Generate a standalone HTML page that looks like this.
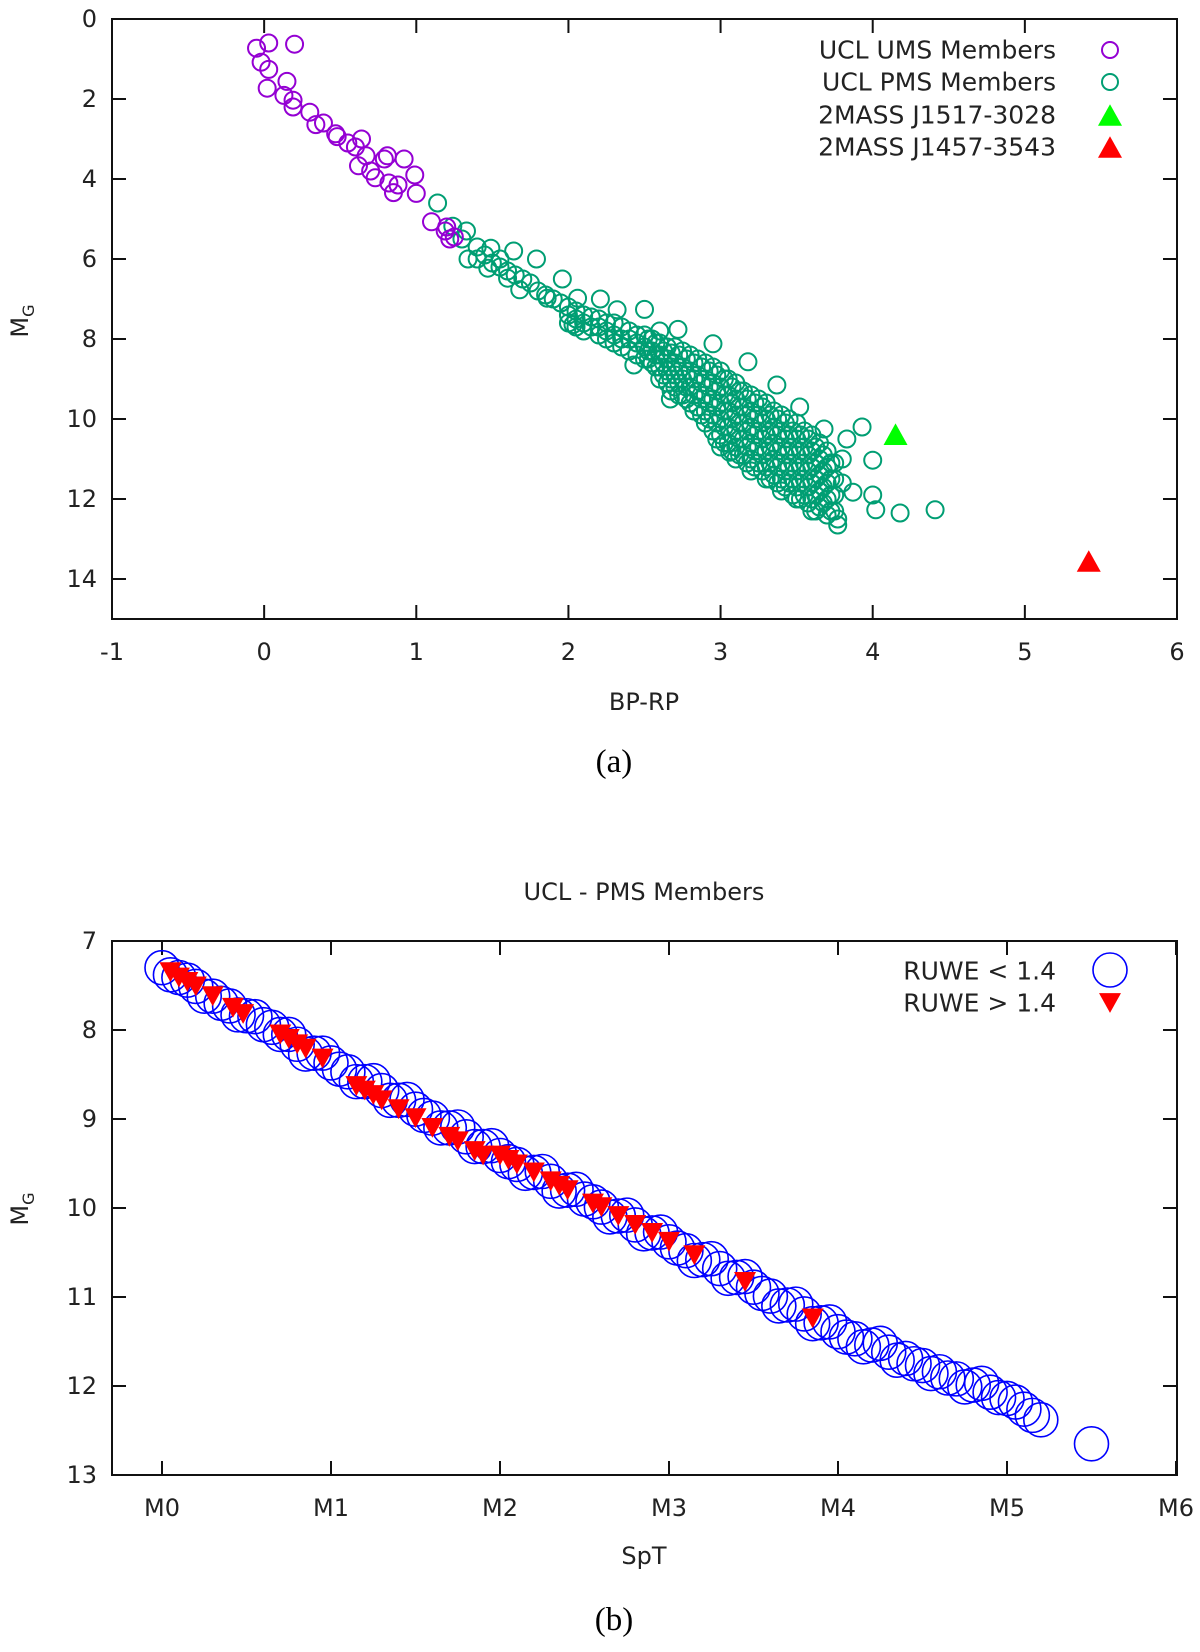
<!DOCTYPE html>
<html><head><meta charset="utf-8"><title>UCL CMD</title>
<style>
html,body{margin:0;padding:0;background:#fff;}
svg{display:block;font-family:"DejaVu Sans","Liberation Sans",sans-serif;}
</style></head>
<body>
<svg id="fig" width="1200" height="1652" viewBox="0 0 1200 1652" xmlns="http://www.w3.org/2000/svg">
<rect width="1200" height="1652" fill="#fff"/>
<g id="pa"></g>
<g id="pb"></g>
</svg>
<script>
// ---- Panel (a) data ----
const umsBP=[-0.05,0.03,0.2,-0.02,0.03,0.02,0.15,0.13,0.19,0.19,0.3,0.34,0.39,0.47,0.48,0.6,0.64,0.62,0.67,0.73,0.81,0.82,0.85,0.79,0.92,0.99,1.0,1.1,1.19,1.22,0.88,1.2,1.25,0.55,0.7];
const umsMG=[0.73,0.6,0.63,1.08,1.26,1.73,1.56,1.91,2.03,2.2,2.33,2.64,2.6,2.87,2.94,3.2,3.0,3.67,3.42,3.97,3.42,4.1,4.34,3.5,3.5,3.9,4.36,5.07,5.3,5.5,4.15,5.2,5.45,3.1,3.8];
const pmsBP=[1.14,1.24,1.33,1.34,1.49,1.47,1.64,1.79,1.6,1.68,1.96,1.86,2.06,2.21,2.03,2.32,2.5,2.43,2.6,2.72,2.95,2.67,3.18,3.37,3.06,3.52,3.68,3.93,4.0,3.83,3.87,4.0,4.02,4.18,4.41,3.77,3.77,
1.3,1.4,1.45,1.5,1.55,1.6,1.65,1.7,1.75,1.8,1.85,1.9,1.95,1.55,1.4,
2.0,2.0,2.0,2.1,2.1,2.1,2.2,2.2,2.2,2.3,2.3,2.3,2.4,2.4,2.4,2.5,2.5,2.5,2.55,2.55,2.55,
2.6,2.6,2.6,2.6,2.65,2.65,2.65,2.65,2.7,2.7,2.7,2.7,2.75,2.75,2.75,2.75,2.8,2.8,2.8,2.8,2.85,2.85,2.85,2.85,
2.9,2.9,2.9,2.9,2.9,2.95,2.95,2.95,2.95,2.95,3.0,3.0,3.0,3.0,3.0,3.0,3.05,3.05,3.05,3.05,3.05,
3.1,3.1,3.1,3.1,3.1,3.1,3.15,3.15,3.15,3.15,3.15,3.2,3.2,3.2,3.2,3.2,3.2,3.25,3.25,3.25,3.25,3.25,
3.3,3.3,3.3,3.3,3.3,3.3,3.35,3.35,3.35,3.35,3.35,3.4,3.4,3.4,3.4,3.4,3.4,3.45,3.45,3.45,3.45,3.45,
3.5,3.5,3.5,3.5,3.5,3.5,3.55,3.55,3.55,3.55,3.55,3.6,3.6,3.6,3.6,3.6,3.6,3.65,3.65,3.65,3.65,3.65,
3.7,3.7,3.7,3.7,3.7,3.75,3.75,3.75,3.75,3.8,3.8];
const pmsMG=[4.6,5.18,5.3,6.0,5.73,6.23,5.8,6.0,6.48,6.77,6.5,6.98,6.98,7.0,7.64,7.27,7.26,8.65,7.8,7.76,8.12,9.5,8.57,9.15,10.83,9.7,10.25,10.2,11.03,10.5,11.83,11.9,12.27,12.35,12.27,12.5,12.65,
5.5,5.7,5.9,6.1,6.0,6.3,6.4,6.5,6.6,6.8,6.9,7.0,7.1,6.2,6.0,
7.2,7.4,7.6,7.4,7.6,7.8,7.5,7.7,7.9,7.6,7.9,8.1,7.8,8.0,8.3,7.9,8.2,8.5,8.0,8.3,8.6,
8.1,8.4,8.7,9.0,8.2,8.5,8.8,9.1,8.2,8.6,8.9,9.2,8.3,8.7,9.0,9.4,8.4,8.8,9.2,9.6,8.5,8.9,9.3,9.7,
8.6,9.0,9.4,9.8,10.1,8.7,9.1,9.5,9.9,10.3,8.8,9.2,9.6,10.0,10.4,10.7,9.0,9.4,9.8,10.2,10.6,
9.1,9.5,9.9,10.3,10.7,11.0,9.3,9.7,10.1,10.5,10.9,9.4,9.8,10.2,10.6,11.0,11.3,9.5,9.9,10.3,10.7,11.1,
9.6,10.0,10.4,10.8,11.2,11.5,9.8,10.2,10.6,11.0,11.4,9.9,10.3,10.7,11.1,11.5,11.8,10.0,10.4,10.8,11.2,11.6,
10.1,10.5,10.9,11.3,11.7,12.0,10.3,10.7,11.1,11.5,11.9,10.4,10.8,11.2,11.6,12.0,12.3,10.6,11.0,11.4,11.8,12.2,
10.8,11.2,11.6,12.0,12.4,11.1,11.5,11.9,12.3,11.0,11.6];
const pmsBP2=[2.05,2.05,2.05,2.15,2.15,2.25,2.25,2.25,2.35,2.35,2.35,2.45,2.45,2.45,2.525,2.525,2.525,2.575,2.575,2.575,
2.625,2.625,2.625,2.675,2.675,2.675,2.675,2.725,2.725,2.725,2.725,2.775,2.775,2.775,2.775,2.825,2.825,2.825,2.825,2.875,2.875,2.875,2.875,2.925,2.925,2.925,2.925,
2.975,2.975,2.975,2.975,2.975,3.025,3.025,3.025,3.025,3.025,3.075,3.075,3.075,3.075,3.075,3.125,3.125,3.125,3.125,3.125,3.175,3.175,3.175,3.175,3.175,
3.225,3.225,3.225,3.225,3.225,3.275,3.275,3.275,3.275,3.275,3.325,3.325,3.325,3.325,3.325,3.375,3.375,3.375,3.375,3.375,3.425,3.425,3.425,3.425,3.425,
3.475,3.475,3.475,3.475,3.475,3.525,3.525,3.525,3.525,3.525,3.575,3.575,3.575,3.575,3.575,3.625,3.625,3.625,3.625,3.625,3.675,3.675,3.675,3.675,3.725,3.725,3.725,3.725];
const pmsMG2=[7.3,7.5,7.7,7.45,7.7,7.6,7.8,8.0,7.7,8.0,8.2,7.9,8.1,8.4,8.0,8.3,8.5,8.1,8.4,8.7,
8.3,8.6,8.9,8.35,8.7,9.0,9.3,8.4,8.8,9.1,9.4,8.5,8.9,9.2,9.5,8.6,9.0,9.4,9.8,8.7,9.1,9.5,9.9,8.8,9.2,9.6,10.0,
8.9,9.3,9.7,10.1,10.5,9.0,9.4,9.8,10.2,10.6,9.2,9.6,10.0,10.4,10.8,9.3,9.7,10.1,10.5,10.9,9.5,9.9,10.3,10.7,11.1,
9.6,10.0,10.4,10.8,11.2,9.7,10.1,10.5,10.9,11.3,9.9,10.3,10.7,11.1,11.5,10.0,10.4,10.8,11.2,11.6,10.1,10.5,10.9,11.3,11.7,
10.3,10.7,11.1,11.5,11.9,10.4,10.8,11.2,11.6,12.0,10.5,10.9,11.3,11.7,12.1,10.7,11.1,11.5,11.9,12.3,10.9,11.3,11.7,12.1,11.1,11.5,11.9,12.3];
const j1517=[4.15,10.38];
const j1457=[5.42,13.55];
const aXTicks=[-1,0,1,2,3,4,5,6];
const aYTicks=[0,2,4,6,8,10,12,14];
// ---- Panel (b) data ----
const goodSpT=[0,0.1,0.2,0.3,0.4,0.5,0.6,0.7,0.8,0.9,1.0,1.1,1.2,1.3,1.4,1.5,1.6,1.7,1.8,1.9,2.0,2.1,2.2,2.3,2.4,2.5,2.6,2.7,2.8,2.9,3.0,3.1,3.2,3.3,3.4,3.5,3.6,3.7,3.8,3.9,4.0,4.1,4.2,4.3,4.4,4.5,4.6,4.7,4.8,4.9,5.0,5.1,5.2,5.5,0.05,0.15,0.35,0.65,1.05,1.55,2.05,2.55,3.05,3.55,4.05,4.45,4.65,4.95,5.05,5.15,
0.25,0.45,0.55,0.75,0.85,0.95,1.15,1.25,1.35,1.45,1.65,1.75,1.85,1.95,2.15,2.25,2.35,2.45,2.65,2.75,2.85,2.95,3.15,3.25,3.35,3.45,3.65,3.75,3.85,3.95,4.15,4.25,4.35,4.55,4.75,4.85];
const goodMG=[7.30,7.41,7.51,7.62,7.73,7.84,7.94,8.05,8.16,8.26,8.37,8.47,8.58,8.68,8.79,8.89,8.99,9.10,9.20,9.31,9.41,9.51,9.60,9.70,9.80,9.90,9.99,10.09,10.19,10.28,10.38,10.48,10.58,10.68,10.78,10.89,10.99,11.09,11.19,11.29,11.39,11.47,11.54,11.62,11.69,11.77,11.84,11.92,11.99,12.07,12.14,12.26,12.38,12.65,7.38,7.44,7.70,7.97,8.44,8.96,9.48,9.93,10.45,10.96,11.45,11.75,11.91,12.13,12.18,12.33,
7.62,7.83,7.85,8.05,8.27,8.26,8.58,8.57,8.79,8.78,9.10,9.09,9.31,9.30,9.61,9.59,9.81,9.79,10.10,10.08,10.29,10.27,10.59,10.57,10.79,10.77,11.10,11.08,11.30,11.28,11.56,11.52,11.71,11.86,12.01,11.97];
const badSpT=[0.05,0.1,0.15,0.2,0.3,0.42,0.48,0.7,0.75,0.8,0.85,0.95,1.15,1.2,1.25,1.3,1.4,1.5,1.6,1.7,1.75,1.85,1.9,2.0,2.05,2.1,2.2,2.3,2.35,2.4,2.55,2.6,2.7,2.8,2.9,3.0,3.15,3.45,3.85];
const badMG=[7.35,7.41,7.46,7.51,7.62,7.75,7.82,8.05,8.10,8.16,8.21,8.32,8.63,8.68,8.73,8.79,8.89,8.99,9.10,9.20,9.25,9.36,9.41,9.41,9.46,9.51,9.60,9.70,9.75,9.80,9.95,9.99,10.09,10.19,10.28,10.38,10.53,10.83,11.24];
const bXTicks=[0,1,2,3,4,5,6];
const bXLabels=["M0","M1","M2","M3","M4","M5","M6"];
const bYTicks=[7,8,9,10,11,12,13];

const NS="http://www.w3.org/2000/svg";
function mk(parent,tag,attrs,name){const e=document.createElementNS(NS,tag);for(const k in attrs)e.setAttribute(k,attrs[k]);


parent.appendChild(e);return e;}
function txt(parent,x,y,s,size,anchor,name,fam){const t=mk(parent,'text',{x:x,y:y,'font-size':size,'text-anchor':anchor,fill:'#222','dominant-baseline':'central'},name);if(fam)t.setAttribute('font-family',fam);t.textContent=s;return t;}

function frame(g,L,R,T,B,xt,xs,yt,ys,xlab,xlabY){
  mk(g,'rect',{x:L,y:T,width:R-L,height:B-T,fill:'none',stroke:'#111','stroke-width':2},'plot-frame');
  xt.forEach((v,i)=>{const x=xs(v);
    mk(g,'line',{x1:x,x2:x,y1:B,y2:B-14,stroke:'#111','stroke-width':2},'x-tick');
    mk(g,'line',{x1:x,x2:x,y1:T,y2:T+14,stroke:'#111','stroke-width':2},'x-tick-top');
    txt(g,x,xlabY,xlab[i],24,'middle','x-tick-label');});
  yt.forEach(v=>{const y=ys(v);
    mk(g,'line',{x1:L,x2:L+14,y1:y,y2:y,stroke:'#111','stroke-width':2},'y-tick');
    mk(g,'line',{x1:R,x2:R-14,y1:y,y2:y,stroke:'#111','stroke-width':2},'y-tick-right');
    txt(g,97,y,String(v),24,'end','y-tick-label');});
}
function mgLabel(g,cx,cy){const t=mk(g,'text',{x:0,y:0,'font-size':24,'text-anchor':'middle',fill:'#222',transform:`translate(${cx},${cy}) rotate(-90)`},'y-axis-title');
  t.innerHTML='M<tspan font-size="16" dy="6">G</tspan>';}
function tri(g,x,y,s,up,color,name){const h=s*0.9;
  const p=up?`${x-s/2},${y+h/2} ${x+s/2},${y+h/2} ${x},${y-h/2}`:`${x-s/2},${y-h/2} ${x+s/2},${y-h/2} ${x},${y+h/2}`;
  return mk(g,'polygon',{points:p,fill:color},name);}

// ---- Panel (a) ----
(function(){
  const g=document.getElementById('pa');
  const L=112,R=1177,T=19,B=619;
  const xs=v=>L+(v+1)*(R-L)/7, ys=v=>T+v*(B-T)/15;
  frame(g,L,R,T,B,aXTicks,xs,aYTicks,ys,aXTicks.map(String),652);
  const gp=mk(g,'g',{},'pms-members-series');
  pmsBP.forEach((v,i)=>{mk(gp,'circle',{cx:xs(v),cy:ys(pmsMG[i]),r:8.5,fill:'none',stroke:'#009e73','stroke-width':2},'pms-point');});
  pmsBP2.forEach((v,i)=>{mk(gp,'circle',{cx:xs(v),cy:ys(pmsMG2[i]),r:8.5,fill:'none',stroke:'#009e73','stroke-width':2},'pms-point');});
  const gu=mk(g,'g',{},'ums-members-series');
  umsBP.forEach((v,i)=>{mk(gu,'circle',{cx:xs(v),cy:ys(umsMG[i]),r:8.5,fill:'none',stroke:'#9400d3','stroke-width':2},'ums-point');});
  tri(g,xs(j1517[0]),ys(j1517[1]),24,true,'#00ff00','j1517-marker');
  tri(g,xs(j1457[0]),ys(j1457[1]),24,true,'#ff0000','j1457-marker');
  const lg=mk(g,'g',{},'legend-a');
  const rows=[["UCL UMS Members",50],["UCL PMS Members",82],["2MASS J1517-3028",115],["2MASS J1457-3543",147]];
  rows.forEach(r=>txt(lg,1056,r[1],r[0],25,'end','legend-label'));
  mk(lg,'circle',{cx:1110,cy:50,r:8,fill:'none',stroke:'#9400d3','stroke-width':2},'legend-ums-symbol');
  mk(lg,'circle',{cx:1110,cy:82,r:8,fill:'none',stroke:'#009e73','stroke-width':2},'legend-pms-symbol');
  tri(lg,1110,115,24,true,'#00ff00','legend-j1517-symbol');
  tri(lg,1110,147,24,true,'#ff0000','legend-j1457-symbol');
  txt(g,644,702,'BP-RP',24,'middle','x-axis-title');
  mgLabel(g,28,321);
  txt(g,614,762,'(a)',33,'middle','panel-a-caption','"Liberation Serif",serif').setAttribute('fill','#000');
})();

// ---- Panel (b) ----
(function(){
  const g=document.getElementById('pb');
  const L=112,R=1177,T=941,B=1475;
  const xs=v=>162+v*169, ys=v=>T+(v-7)*(B-T)/6;
  frame(g,L,R,T,B,bXTicks,xs,bYTicks,ys,bXLabels,1508);
  txt(g,644,892,'UCL - PMS Members',24,'middle','chart-title');
  const gg=mk(g,'g',{},'ruwe-low-series');
  goodSpT.forEach((v,i)=>{mk(gg,'circle',{cx:xs(v),cy:ys(goodMG[i]),r:17,fill:'none',stroke:'#0000ff','stroke-width':1.6},'ruwe-low-point');});
  const gb=mk(g,'g',{},'ruwe-high-series');
  badSpT.forEach((v,i)=>{tri(gb,xs(v),ys(badMG[i]),22,false,'#ff0000','ruwe-high-point');});
  const lg=mk(g,'g',{},'legend-b');
  txt(lg,1056,971,'RUWE < 1.4',25,'end','legend-label');
  txt(lg,1056,1003,'RUWE > 1.4',25,'end','legend-label');
  mk(lg,'circle',{cx:1110,cy:970,r:17,fill:'none',stroke:'#0000ff','stroke-width':1.6},'legend-ruwe-low-symbol');
  tri(lg,1110,1003,22,false,'#ff0000','legend-ruwe-high-symbol');
  txt(g,644,1556,'SpT',24,'middle','x-axis-title');
  mgLabel(g,28,1209);
  txt(g,614,1620,'(b)',33,'middle','panel-b-caption','"Liberation Serif",serif').setAttribute('fill','#000');
})();
</script>
</body></html>
